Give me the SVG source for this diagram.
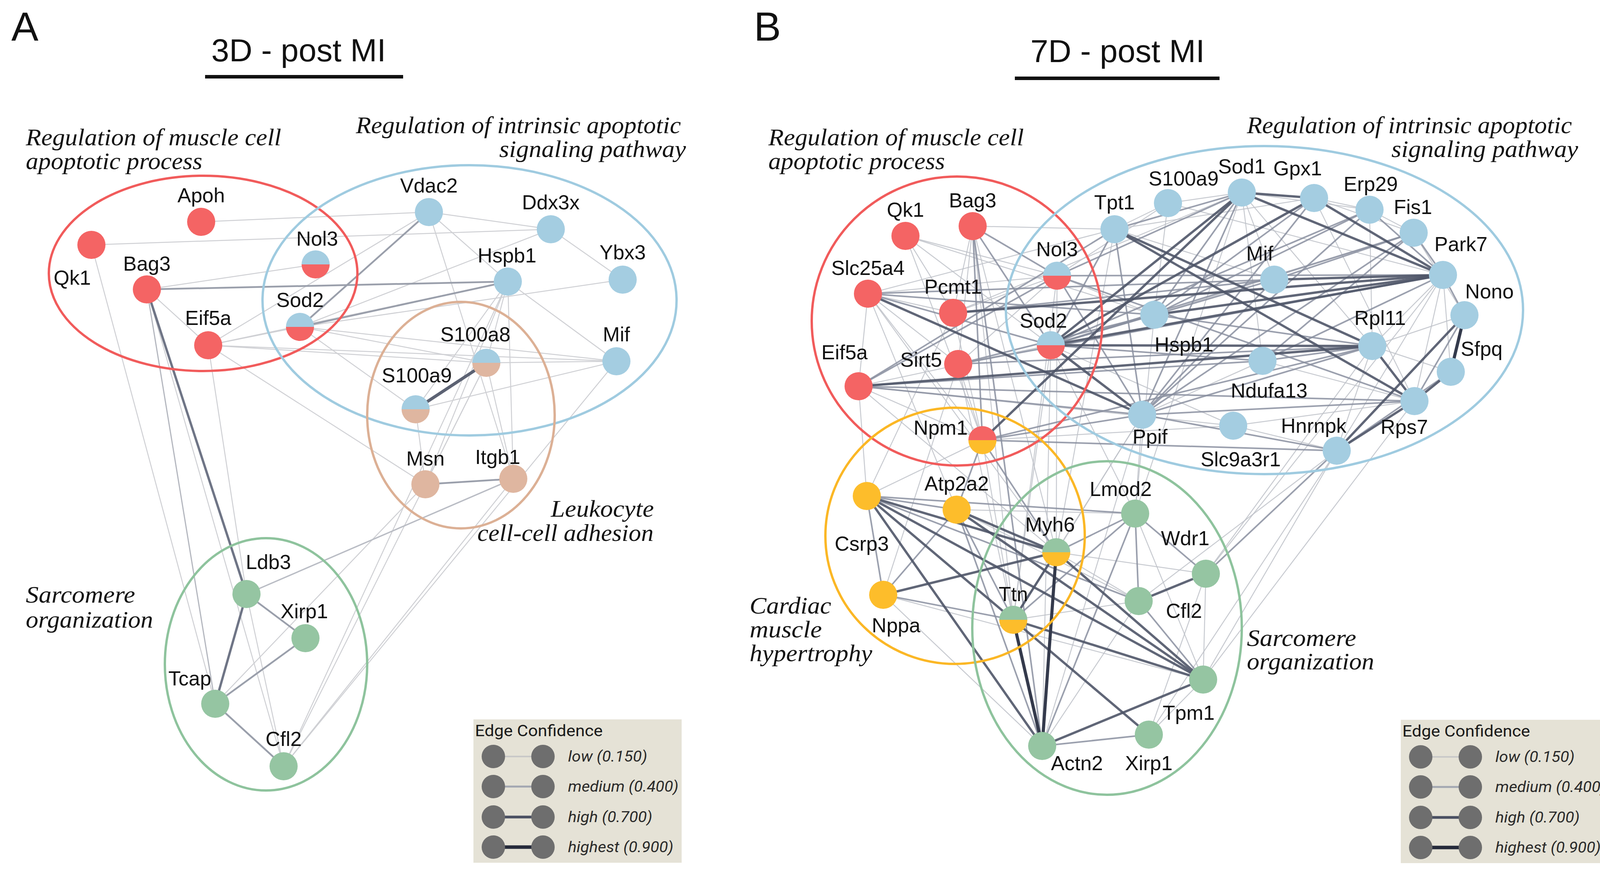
<svg xmlns="http://www.w3.org/2000/svg" width="4140" height="2243" viewBox="0 0 4140 2243">
<style>
.bg{fill:#ffffff}
.lbl{font-family:"Liberation Sans",Arial,sans-serif;font-size:52px;fill:#111;text-anchor:middle}
.grp{font-family:"Liberation Serif","Times New Roman",serif;font-style:italic;font-size:62px;fill:#111}
.ttl{font-family:"Liberation Sans",Arial,sans-serif;font-size:82px;fill:#111}
.pan{font-family:"Liberation Sans",Arial,sans-serif;font-size:104px;fill:#111}
.hull{fill:none;stroke-width:6}
.r{fill:#f46464}.b{fill:#a4cde1}.t{fill:#dfb6a0}.g{fill:#95c5a2}.o{fill:#fdbd2b}
.a1{stroke:#cfd0d4;stroke-width:2.5}
.a2{stroke:#9a9fab;stroke-width:4.5}
.a3{stroke:#6f7586;stroke-width:6}
.b1{stroke:#bfc2c9;stroke-width:2.5;opacity:.85}
.b2{stroke:#8a90a0;stroke-width:4;opacity:.85}
.b3{stroke:#4f5669;stroke-width:6;opacity:.9}
.b4{stroke:#343a4c;stroke-width:8}
.lgbox{fill:#e5e2d6}
.lgc{fill:#6e6e6e}
.lgt{font-family:Roboto,"Liberation Sans",sans-serif;font-size:40px;fill:#1a1a1a}
.lgi{font-family:Roboto,"Liberation Sans",sans-serif;font-size:38px;font-style:italic;fill:#2a2a2a}
</style>
<rect class="bg" x="0" y="0" width="4140" height="2243"/>

<!-- Panel titles -->
<g id="titles">
<text class="pan" x="29" y="104">A</text>
<text class="pan" x="1930" y="104">B</text>
<text class="ttl" x="541" y="157" textLength="447" lengthAdjust="spacingAndGlyphs">3D - post MI</text>
<rect x="525" y="192" width="507" height="9" fill="#111"/>
<text class="ttl" x="2638" y="159" textLength="446" lengthAdjust="spacingAndGlyphs">7D - post MI</text>
<rect x="2598" y="196" width="524" height="9" fill="#111"/>
</g>

<!-- Group labels -->
<g id="group-labels">
<text class="grp" x="66" y="372" textLength="654" lengthAdjust="spacingAndGlyphs">Regulation of muscle cell</text>
<text class="grp" x="66" y="433" textLength="452" lengthAdjust="spacingAndGlyphs">apoptotic process</text>
<text class="grp" x="911" y="341" textLength="832" lengthAdjust="spacingAndGlyphs">Regulation of intrinsic apoptotic</text>
<text class="grp" x="1278" y="402" textLength="478" lengthAdjust="spacingAndGlyphs">signaling pathway</text>
<text class="grp" x="1410" y="1323" textLength="264" lengthAdjust="spacingAndGlyphs">Leukocyte</text>
<text class="grp" x="1222" y="1385" textLength="451" lengthAdjust="spacingAndGlyphs">cell-cell adhesion</text>
<text class="grp" x="66" y="1543" textLength="280" lengthAdjust="spacingAndGlyphs">Sarcomere</text>
<text class="grp" x="66" y="1607" textLength="326" lengthAdjust="spacingAndGlyphs">organization</text>

<text class="grp" x="1967" y="372" textLength="654" lengthAdjust="spacingAndGlyphs">Regulation of muscle cell</text>
<text class="grp" x="1967" y="433" textLength="452" lengthAdjust="spacingAndGlyphs">apoptotic process</text>
<text class="grp" x="3192" y="341" textLength="832" lengthAdjust="spacingAndGlyphs">Regulation of intrinsic apoptotic</text>
<text class="grp" x="3562" y="402" textLength="478" lengthAdjust="spacingAndGlyphs">signaling pathway</text>
<text class="grp" x="1919" y="1571" textLength="209" lengthAdjust="spacingAndGlyphs">Cardiac</text>
<text class="grp" x="1919" y="1632" textLength="185" lengthAdjust="spacingAndGlyphs">muscle</text>
<text class="grp" x="1919" y="1693" textLength="314" lengthAdjust="spacingAndGlyphs">hypertrophy</text>
<text class="grp" x="3192" y="1654" textLength="280" lengthAdjust="spacingAndGlyphs">Sarcomere</text>
<text class="grp" x="3192" y="1714" textLength="326" lengthAdjust="spacingAndGlyphs">organization</text>
</g>

<!-- Connectors -->
<g id="connectors">
<!-- Panel A low -->
<line class="a1" x1="515" y1="568" x2="1098" y2="543"/>
<line class="a1" x1="234" y1="627" x2="1410" y2="587"/>
<line class="a1" x1="234" y1="627" x2="551" y2="1802"/>
<line class="a1" x1="376" y1="741" x2="808" y2="677"/>
<line class="a1" x1="376" y1="741" x2="533" y2="884"/>
<line class="a1" x1="376" y1="741" x2="726" y2="1962"/>
<line class="a1" x1="533" y1="884" x2="1098" y2="543"/>
<line class="a1" x1="533" y1="884" x2="1300" y2="721"/>
<line class="a1" x1="533" y1="884" x2="768" y2="837"/>
<line class="a1" x1="533" y1="884" x2="1578" y2="925"/>
<line class="a1" x1="533" y1="884" x2="1245" y2="929"/>
<line class="a1" x1="533" y1="884" x2="1089" y2="1240"/>
<line class="a1" x1="533" y1="884" x2="631" y2="1521"/>
<line class="a1" x1="768" y1="837" x2="1578" y2="925"/>
<line class="a1" x1="768" y1="837" x2="1245" y2="929"/>
<line class="a1" x1="768" y1="837" x2="1064" y2="1048"/>
<line class="a1" x1="768" y1="837" x2="1594" y2="716"/>
<line class="a1" x1="768" y1="837" x2="1410" y2="587"/>
<line class="a1" x1="1098" y1="543" x2="1410" y2="587"/>
<line class="a1" x1="1098" y1="543" x2="1314" y2="1226"/>
<line class="a1" x1="1098" y1="543" x2="1300" y2="721"/>
<line class="a1" x1="1410" y1="587" x2="1594" y2="716"/>
<line class="a1" x1="1300" y1="721" x2="1578" y2="925"/>
<line class="a1" x1="1300" y1="721" x2="1245" y2="929"/>
<line class="a1" x1="1300" y1="721" x2="1064" y2="1048"/>
<line class="a1" x1="1300" y1="721" x2="1089" y2="1240"/>
<line class="a1" x1="1300" y1="721" x2="1314" y2="1226"/>
<line class="a1" x1="1300" y1="721" x2="726" y2="1962"/>
<line class="a1" x1="1245" y1="929" x2="1578" y2="925"/>
<line class="a1" x1="1064" y1="1048" x2="1578" y2="925"/>
<line class="a1" x1="1245" y1="929" x2="1314" y2="1226"/>
<line class="a1" x1="1245" y1="929" x2="1089" y2="1240"/>
<line class="a1" x1="1064" y1="1048" x2="1089" y2="1240"/>
<line class="a1" x1="1578" y1="925" x2="726" y2="1962"/>
<line class="a1" x1="1314" y1="1226" x2="726" y2="1962"/>
<line class="a1" x1="1089" y1="1240" x2="551" y2="1802"/>
<line class="a1" x1="1245" y1="929" x2="726" y2="1962"/>
<line class="a1" x1="631" y1="1521" x2="726" y2="1962"/>
<!-- Panel A medium/high -->
<line class="a2" x1="376" y1="741" x2="1300" y2="721"/>
<line class="a2" x1="768" y1="837" x2="1098" y2="543"/>
<line class="a2" x1="768" y1="837" x2="1300" y2="721"/>
<line class="a2" x1="1089" y1="1240" x2="1314" y2="1226"/>
<line class="a1" x1="1314" y1="1226" x2="631" y2="1521" style="stroke:#b9bcc4;stroke-width:3.5"/>
<line class="a2" x1="631" y1="1521" x2="782" y2="1634"/>
<line class="a2" x1="782" y1="1634" x2="551" y2="1802"/>
<line class="a2" x1="551" y1="1802" x2="726" y2="1962"/>
<line class="a1" x1="376" y1="741" x2="551" y2="1802" style="stroke:#b4b7bf;stroke-width:3"/>
<line class="a3" x1="376" y1="741" x2="631" y2="1521"/>
<line class="a3" x1="631" y1="1521" x2="551" y2="1802"/>
<line class="a3" x1="1245" y1="929" x2="1064" y2="1048" style="stroke:#5c6273;stroke-width:8"/>

<!-- Panel B low -->
<line class="b1" x1="2318" y1="604" x2="2690" y2="884"/>
<line class="b1" x1="2318" y1="604" x2="2706" y2="706"/>
<line class="b1" x1="2318" y1="604" x2="2440" y2="801"/>
<line class="b1" x1="2318" y1="604" x2="2955" y2="806"/>
<line class="b1" x1="2318" y1="604" x2="2515" y2="1127"/>
<line class="b1" x1="2490" y1="579" x2="2853" y2="587"/>
<line class="b1" x1="2490" y1="579" x2="2440" y2="801"/>
<line class="b1" x1="2490" y1="579" x2="2453" y2="932"/>
<line class="b1" x1="2490" y1="579" x2="2594" y2="1587"/>
<line class="b1" x1="2490" y1="579" x2="2704" y2="1414"/>
<line class="b1" x1="2222" y1="752" x2="2198" y2="989"/>
<line class="b1" x1="2222" y1="752" x2="2453" y2="932"/>
<line class="b1" x1="2222" y1="752" x2="2515" y2="1127"/>
<line class="b1" x1="2222" y1="752" x2="2449" y2="1305"/>
<line class="b1" x1="2222" y1="752" x2="2704" y2="1414"/>
<line class="b1" x1="2222" y1="752" x2="2440" y2="801"/>
<line class="b1" x1="2222" y1="752" x2="2706" y2="706"/>
<line class="b1" x1="2222" y1="752" x2="2853" y2="587"/>
<line class="b1" x1="2440" y1="801" x2="2706" y2="706"/>
<line class="b1" x1="2440" y1="801" x2="3179" y2="493"/>
<line class="b1" x1="2440" y1="801" x2="2515" y2="1127"/>
<line class="b1" x1="2198" y1="989" x2="2515" y2="1127"/>
<line class="b1" x1="2198" y1="989" x2="2704" y2="1414"/>
<line class="b1" x1="2198" y1="989" x2="2219" y2="1270"/>
<line class="b1" x1="2198" y1="989" x2="2690" y2="884"/>
<line class="b1" x1="2453" y1="932" x2="2690" y2="884"/>
<line class="b1" x1="2453" y1="932" x2="2706" y2="706"/>
<line class="b1" x1="2453" y1="932" x2="2515" y2="1127"/>
<line class="b1" x1="2453" y1="932" x2="2594" y2="1587"/>
<line class="b1" x1="2706" y1="706" x2="2955" y2="806"/>
<line class="b1" x1="2706" y1="706" x2="2704" y2="1414"/>
<line class="b1" x1="2706" y1="706" x2="2594" y2="1587"/>
<line class="b1" x1="2690" y1="884" x2="2594" y2="1587"/>
<line class="b1" x1="2690" y1="884" x2="2668" y2="1910"/>
<line class="b1" x1="2690" y1="884" x2="2906" y2="1315"/>
<line class="b1" x1="2990" y1="520" x2="3179" y2="493"/>
<line class="b1" x1="2990" y1="520" x2="3694" y2="704"/>
<line class="b1" x1="2990" y1="520" x2="2955" y2="806"/>
<line class="b1" x1="2990" y1="520" x2="2853" y2="587"/>
<line class="b1" x1="2990" y1="520" x2="2706" y2="706"/>
<line class="b1" x1="2853" y1="587" x2="3364" y2="507"/>
<line class="b1" x1="2853" y1="587" x2="3262" y2="716"/>
<line class="b1" x1="2853" y1="587" x2="2704" y2="1414"/>
<line class="b1" x1="3179" y1="493" x2="3262" y2="716"/>
<line class="b1" x1="3179" y1="493" x2="3506" y2="537"/>
<line class="b1" x1="3179" y1="493" x2="3232" y2="924"/>
<line class="b1" x1="3179" y1="493" x2="3513" y2="886"/>
<line class="b1" x1="3364" y1="507" x2="3506" y2="537"/>
<line class="b1" x1="3364" y1="507" x2="3619" y2="596"/>
<line class="b1" x1="3364" y1="507" x2="3621" y2="1027"/>
<line class="b1" x1="3506" y1="537" x2="3619" y2="596"/>
<line class="b1" x1="3506" y1="537" x2="3513" y2="886"/>
<line class="b1" x1="3619" y1="596" x2="2955" y2="806"/>
<line class="b1" x1="3619" y1="596" x2="3749" y2="807"/>
<line class="b1" x1="3694" y1="704" x2="3621" y2="1027"/>
<line class="b1" x1="3694" y1="704" x2="3714" y2="952"/>
<line class="b1" x1="3694" y1="704" x2="3422" y2="1154"/>
<line class="b1" x1="3694" y1="704" x2="3513" y2="886"/>
<line class="b1" x1="3513" y1="886" x2="3749" y2="807"/>
<line class="b1" x1="3513" y1="886" x2="3422" y2="1154"/>
<line class="b1" x1="3513" y1="886" x2="3714" y2="952"/>
<line class="b1" x1="3232" y1="924" x2="3621" y2="1027"/>
<line class="b1" x1="3232" y1="924" x2="2924" y2="1062"/>
<line class="b1" x1="3157" y1="1090" x2="3422" y2="1154"/>
<line class="b1" x1="3157" y1="1090" x2="2690" y2="884"/>
<line class="b1" x1="3157" y1="1090" x2="2515" y2="1127"/>
<line class="b1" x1="3157" y1="1090" x2="3621" y2="1027"/>
<line class="b1" x1="3157" y1="1090" x2="2198" y2="989"/>
<line class="b1" x1="3422" y1="1154" x2="3080" y2="1740"/>
<line class="b1" x1="3422" y1="1154" x2="2941" y2="1881"/>
<line class="b1" x1="3422" y1="1154" x2="2915" y2="1539"/>
<line class="b1" x1="2924" y1="1062" x2="2906" y2="1315"/>
<line class="b1" x1="2924" y1="1062" x2="2704" y2="1414"/>
<line class="b1" x1="2924" y1="1062" x2="2594" y2="1587"/>
<line class="b1" x1="2906" y1="1315" x2="2955" y2="806"/>
<line class="b1" x1="3087" y1="1469" x2="3513" y2="886"/>
<line class="b1" x1="3080" y1="1740" x2="3621" y2="1027"/>
<line class="b1" x1="2668" y1="1910" x2="2924" y2="1062"/>
<line class="b1" x1="2515" y1="1127" x2="2219" y2="1270"/>
<line class="b1" x1="2515" y1="1127" x2="2594" y2="1587"/>
<line class="b1" x1="2449" y1="1305" x2="2915" y2="1539"/>
<line class="b1" x1="2449" y1="1305" x2="2906" y2="1315"/>
<line class="b1" x1="2261" y1="1523" x2="2668" y2="1910"/>
<line class="b1" x1="2261" y1="1523" x2="3080" y2="1740"/>
<line class="b1" x1="2704" y1="1414" x2="2915" y2="1539"/>
<line class="b1" x1="2704" y1="1414" x2="3087" y2="1469"/>
<line class="b1" x1="2594" y1="1587" x2="2915" y2="1539"/>
<line class="b1" x1="2906" y1="1315" x2="3080" y2="1740"/>
<line class="b1" x1="3087" y1="1469" x2="3080" y2="1740"/>
<line class="b1" x1="2915" y1="1539" x2="2668" y2="1910"/>
<line class="b1" x1="3080" y1="1740" x2="2941" y2="1881"/>
<line class="b1" x1="2219" y1="1270" x2="2440" y2="801"/>
<line class="b1" x1="2261" y1="1523" x2="2453" y2="932"/>
<line class="b1" x1="2906" y1="1315" x2="3179" y2="493"/>
<line class="b1" x1="2941" y1="1881" x2="3087" y2="1469"/>
<line class="b1" x1="3087" y1="1469" x2="3694" y2="704"/>
<!-- Panel B medium -->
<line class="b2" x1="2690" y1="884" x2="3262" y2="716"/>
<line class="b2" x1="2690" y1="884" x2="3619" y2="596"/>
<line class="b2" x1="2690" y1="884" x2="3506" y2="537"/>
<line class="b2" x1="2690" y1="884" x2="2955" y2="806"/>
<line class="b2" x1="2690" y1="884" x2="3232" y2="924"/>
<line class="b2" x1="2690" y1="884" x2="2853" y2="587"/>
<line class="b2" x1="2706" y1="706" x2="3179" y2="493"/>
<line class="b2" x1="2706" y1="706" x2="3694" y2="704"/>
<line class="b2" x1="2706" y1="706" x2="3621" y2="1027"/>
<line class="b2" x1="2706" y1="706" x2="2924" y2="1062"/>
<line class="b2" x1="2490" y1="579" x2="2706" y2="706"/>
<line class="b2" x1="2490" y1="579" x2="2690" y2="884"/>
<line class="b2" x1="2490" y1="579" x2="2515" y2="1127"/>
<line class="b2" x1="2490" y1="579" x2="2668" y2="1910"/>
<line class="b2" x1="2222" y1="752" x2="2690" y2="884"/>
<line class="b2" x1="2222" y1="752" x2="2955" y2="806"/>
<line class="b2" x1="2222" y1="752" x2="3262" y2="716"/>
<line class="b2" x1="2440" y1="801" x2="3262" y2="716"/>
<line class="b2" x1="2198" y1="989" x2="2706" y2="706"/>
<line class="b2" x1="2198" y1="989" x2="3232" y2="924"/>
<line class="b2" x1="2198" y1="989" x2="3621" y2="1027"/>
<line class="b2" x1="2198" y1="989" x2="2924" y2="1062"/>
<line class="b2" x1="2198" y1="989" x2="2853" y2="587"/>
<line class="b2" x1="2453" y1="932" x2="3694" y2="704"/>
<line class="b2" x1="2453" y1="932" x2="2955" y2="806"/>
<line class="b2" x1="2453" y1="932" x2="3513" y2="886"/>
<line class="b2" x1="2955" y1="806" x2="3179" y2="493"/>
<line class="b2" x1="2955" y1="806" x2="3364" y2="507"/>
<line class="b2" x1="2955" y1="806" x2="3513" y2="886"/>
<line class="b2" x1="2955" y1="806" x2="3506" y2="537"/>
<line class="b2" x1="2853" y1="587" x2="3179" y2="493"/>
<line class="b2" x1="2853" y1="587" x2="2924" y2="1062"/>
<line class="b2" x1="3506" y1="537" x2="3694" y2="704"/>
<line class="b2" x1="3506" y1="537" x2="2924" y2="1062"/>
<line class="b2" x1="3619" y1="596" x2="3694" y2="704"/>
<line class="b2" x1="3619" y1="596" x2="2924" y2="1062"/>
<line class="b2" x1="3619" y1="596" x2="3232" y2="924"/>
<line class="b2" x1="3262" y1="716" x2="2924" y2="1062"/>
<line class="b2" x1="3262" y1="716" x2="3619" y2="596"/>
<line class="b2" x1="3513" y1="886" x2="3232" y2="924"/>
<line class="b2" x1="3513" y1="886" x2="2924" y2="1062"/>
<line class="b2" x1="3232" y1="924" x2="3694" y2="704"/>
<line class="b2" x1="2924" y1="1062" x2="3621" y2="1027"/>
<line class="b2" x1="2924" y1="1062" x2="3422" y2="1154"/>
<line class="b2" x1="3694" y1="704" x2="3749" y2="807"/>
<line class="b2" x1="3422" y1="1154" x2="3714" y2="952"/>
<line class="b2" x1="3422" y1="1154" x2="2515" y2="1127"/>
<line class="b2" x1="3422" y1="1154" x2="3087" y2="1469"/>
<line class="b2" x1="3621" y1="1027" x2="3749" y2="807"/>
<line class="b2" x1="2515" y1="1127" x2="2924" y2="1062"/>
<line class="b2" x1="2515" y1="1127" x2="3513" y2="886"/>
<line class="b2" x1="2515" y1="1127" x2="2704" y2="1414"/>
<line class="b2" x1="2515" y1="1127" x2="2449" y2="1305"/>
<line class="b2" x1="3179" y1="493" x2="2924" y2="1062"/>
<line class="b2" x1="3364" y1="507" x2="2924" y2="1062"/>
<line class="b2" x1="2219" y1="1270" x2="2449" y2="1305"/>
<line class="b2" x1="2219" y1="1270" x2="2906" y2="1315"/>
<line class="b2" x1="2219" y1="1270" x2="2915" y2="1539"/>
<line class="b2" x1="2219" y1="1270" x2="2261" y2="1523"/>
<line class="b2" x1="2449" y1="1305" x2="2594" y2="1587"/>
<line class="b2" x1="2449" y1="1305" x2="2261" y2="1523"/>
<line class="b2" x1="2449" y1="1305" x2="2668" y2="1910"/>
<line class="b2" x1="2261" y1="1523" x2="2594" y2="1587"/>
<line class="b2" x1="2704" y1="1414" x2="2906" y2="1315"/>
<line class="b2" x1="2594" y1="1587" x2="2906" y2="1315"/>
<line class="b2" x1="2906" y1="1315" x2="2915" y2="1539"/>
<line class="b2" x1="2906" y1="1315" x2="3087" y2="1469"/>
<line class="b2" x1="2906" y1="1315" x2="2668" y2="1910"/>
<line class="b2" x1="2915" y1="1539" x2="3080" y2="1740"/>
<line class="b2" x1="2668" y1="1910" x2="2941" y2="1881"/>
<!-- Panel B high -->
<line class="b3" x1="2222" y1="752" x2="2924" y2="1062"/>
<line class="b3" x1="2690" y1="884" x2="3179" y2="493"/>
<line class="b3" x1="2690" y1="884" x2="3364" y2="507"/>
<line class="b3" x1="2690" y1="884" x2="3694" y2="704"/>
<line class="b3" x1="2690" y1="884" x2="3513" y2="886"/>
<line class="b3" x1="2690" y1="884" x2="2924" y2="1062"/>
<line class="b3" x1="3179" y1="493" x2="3364" y2="507"/>
<line class="b3" x1="3179" y1="493" x2="3694" y2="704"/>
<line class="b3" x1="3364" y1="507" x2="3694" y2="704"/>
<line class="b3" x1="2853" y1="587" x2="3621" y2="1027"/>
<line class="b3" x1="2853" y1="587" x2="3513" y2="886"/>
<line class="b3" x1="3262" y1="716" x2="3694" y2="704"/>
<line class="b3" x1="3513" y1="886" x2="3621" y2="1027"/>
<line class="b3" x1="3714" y1="952" x2="3621" y2="1027"/>
<line class="b3" x1="3422" y1="1154" x2="3621" y2="1027"/>
<line class="b3" x1="3422" y1="1154" x2="3749" y2="807"/>
<line class="b3" x1="2198" y1="989" x2="3513" y2="886"/>
<line class="b3" x1="2440" y1="801" x2="3694" y2="704"/>
<line class="b3" x1="2955" y1="806" x2="3694" y2="704"/>
<line class="b3" x1="2515" y1="1127" x2="3179" y2="493"/>
<line class="b3" x1="2219" y1="1270" x2="2704" y2="1414"/>
<line class="b3" x1="2219" y1="1270" x2="2594" y2="1587"/>
<line class="b3" x1="2219" y1="1270" x2="3080" y2="1740"/>
<line class="b3" x1="2219" y1="1270" x2="2668" y2="1910"/>
<line class="b3" x1="2449" y1="1305" x2="2704" y2="1414"/>
<line class="b3" x1="2449" y1="1305" x2="3080" y2="1740"/>
<line class="b3" x1="2261" y1="1523" x2="2704" y2="1414"/>
<line class="b3" x1="2704" y1="1414" x2="2594" y2="1587"/>
<line class="b3" x1="2704" y1="1414" x2="3080" y2="1740"/>
<line class="b3" x1="2594" y1="1587" x2="3080" y2="1740"/>
<line class="b3" x1="2594" y1="1587" x2="2941" y2="1881"/>
<line class="b3" x1="3087" y1="1469" x2="2915" y2="1539"/>
<line class="b3" x1="2668" y1="1910" x2="3080" y2="1740"/>
<line class="b4" x1="3749" y1="807" x2="3714" y2="952"/>
<line class="b4" x1="2704" y1="1414" x2="2668" y2="1910"/>
<line class="b4" x1="2594" y1="1587" x2="2668" y2="1910"/>
</g>

<!-- Functional group hulls -->
<g id="hulls">
<ellipse class="hull" cx="520" cy="700" rx="395" ry="250" stroke="#f15b5b"/>
<ellipse class="hull" cx="1202" cy="769" rx="530" ry="346" stroke="#9fcbe0"/>
<ellipse class="hull" cx="1180" cy="1063" rx="240" ry="290" stroke="#dcb095"/>
<ellipse class="hull" cx="681" cy="1701" rx="259" ry="323" stroke="#8ec39d"/>
<ellipse class="hull" cx="2450" cy="822" rx="372" ry="370" stroke="#f15b5b"/>
<ellipse class="hull" cx="3237" cy="794" rx="662" ry="420" stroke="#9fcbe0"/>
<ellipse class="hull" cx="2445" cy="1372" rx="332" ry="328" stroke="#fbb725"/>
<ellipse class="hull" cx="2834" cy="1608" rx="345" ry="427" stroke="#8ec39d"/>
</g>

<!-- Panel A nodes -->
<g id="a-apoh"><circle class="r" cx="515" cy="568" r="36"/><text class="lbl" x="515" y="518">Apoh</text></g>
<g id="a-qk1"><circle class="r" cx="234" cy="627" r="36"/><text class="lbl" x="185" y="729">Qk1</text></g>
<g id="a-bag3"><circle class="r" cx="376" cy="741" r="36"/><text class="lbl" x="376" y="693">Bag3</text></g>
<g id="a-eif5a"><circle class="r" cx="533" cy="884" r="36"/><text class="lbl" x="533" y="832">Eif5a</text></g>
<g id="a-nol3"><path class="b" d="M772,677 A36,36 0 0 1 844,677 Z"/><path class="r" d="M772,677 A36,36 0 0 0 844,677 Z"/><text class="lbl" x="812" y="629">Nol3</text></g>
<g id="a-sod2"><path class="b" d="M732,837 A36,36 0 0 1 804,837 Z"/><path class="r" d="M732,837 A36,36 0 0 0 804,837 Z"/><text class="lbl" x="768" y="786">Sod2</text></g>
<g id="a-vdac2"><circle class="b" cx="1098" cy="543" r="36"/><text class="lbl" x="1098" y="493">Vdac2</text></g>
<g id="a-ddx3x"><circle class="b" cx="1410" cy="587" r="36"/><text class="lbl" x="1410" y="536">Ddx3x</text></g>
<g id="a-hspb1"><circle class="b" cx="1300" cy="721" r="36"/><text class="lbl" x="1298" y="672">Hspb1</text></g>
<g id="a-ybx3"><circle class="b" cx="1594" cy="716" r="36"/><text class="lbl" x="1594" y="664">Ybx3</text></g>
<g id="a-mif"><circle class="b" cx="1578" cy="925" r="36"/><text class="lbl" x="1578" y="874">Mif</text></g>
<g id="a-s100a8"><path class="b" d="M1209,929 A36,36 0 0 1 1281,929 Z"/><path class="t" d="M1209,929 A36,36 0 0 0 1281,929 Z"/><text class="lbl" x="1217" y="874">S100a8</text></g>
<g id="a-s100a9"><path class="b" d="M1028,1048 A36,36 0 0 1 1100,1048 Z"/><path class="t" d="M1028,1048 A36,36 0 0 0 1100,1048 Z"/><text class="lbl" x="1067" y="979">S100a9</text></g>
<g id="a-msn"><circle class="t" cx="1089" cy="1240" r="36"/><text class="lbl" x="1089" y="1192">Msn</text></g>
<g id="a-itgb1"><circle class="t" cx="1314" cy="1226" r="36"/><text class="lbl" x="1274" y="1188">Itgb1</text></g>
<g id="a-ldb3"><circle class="g" cx="631" cy="1521" r="36"/><text class="lbl" x="687" y="1457">Ldb3</text></g>
<g id="a-xirp1"><circle class="g" cx="782" cy="1634" r="36"/><text class="lbl" x="779" y="1583">Xirp1</text></g>
<g id="a-tcap"><circle class="g" cx="551" cy="1802" r="36"/><text class="lbl" x="486" y="1755">Tcap</text></g>
<g id="a-cfl2"><circle class="g" cx="726" cy="1962" r="36"/><text class="lbl" x="726" y="1910">Cfl2</text></g>

<!-- Panel B nodes -->
<g id="b-qk1"><circle class="r" cx="2318" cy="604" r="36"/><text class="lbl" x="2318" y="555">Qk1</text></g>
<g id="b-bag3"><circle class="r" cx="2490" cy="579" r="36"/><text class="lbl" x="2490" y="531">Bag3</text></g>
<g id="b-slc25a4"><circle class="r" cx="2222" cy="752" r="36"/><text class="lbl" x="2222" y="704">Slc25a4</text></g>
<g id="b-pcmt1"><circle class="r" cx="2440" cy="801" r="36"/><text class="lbl" x="2440" y="752">Pcmt1</text></g>
<g id="b-eif5a"><circle class="r" cx="2198" cy="989" r="36"/><text class="lbl" x="2162" y="920">Eif5a</text></g>
<g id="b-sirt5"><circle class="r" cx="2453" cy="932" r="36"/><text class="lbl" x="2358" y="939">Sirt5</text></g>
<g id="b-nol3"><path class="b" d="M2670,706 A36,36 0 0 1 2742,706 Z"/><path class="r" d="M2670,706 A36,36 0 0 0 2742,706 Z"/><text class="lbl" x="2706" y="656">Nol3</text></g>
<g id="b-sod2"><path class="b" d="M2654,884 A36,36 0 0 1 2726,884 Z"/><path class="r" d="M2654,884 A36,36 0 0 0 2726,884 Z"/><text class="lbl" x="2671" y="839">Sod2</text></g>
<g id="b-npm1"><path class="r" d="M2479,1127 A36,36 0 0 1 2551,1127 Z"/><path class="o" d="M2479,1127 A36,36 0 0 0 2551,1127 Z"/><text class="lbl" x="2408" y="1113">Npm1</text></g>
<g id="b-tpt1"><circle class="b" cx="2853" cy="587" r="36"/><text class="lbl" x="2853" y="536">Tpt1</text></g>
<g id="b-s100a9"><circle class="b" cx="2990" cy="520" r="36"/><text class="lbl" x="3030" y="475">S100a9</text></g>
<g id="b-sod1"><circle class="b" cx="3179" cy="493" r="36"/><text class="lbl" x="3179" y="444">Sod1</text></g>
<g id="b-gpx1"><circle class="b" cx="3364" cy="507" r="36"/><text class="lbl" x="3322" y="449">Gpx1</text></g>
<g id="b-erp29"><circle class="b" cx="3506" cy="537" r="36"/><text class="lbl" x="3509" y="489">Erp29</text></g>
<g id="b-fis1"><circle class="b" cx="3619" cy="596" r="36"/><text class="lbl" x="3617" y="548">Fis1</text></g>
<g id="b-park7"><circle class="b" cx="3694" cy="704" r="36"/><text class="lbl" x="3740" y="643">Park7</text></g>
<g id="b-mif"><circle class="b" cx="3262" cy="716" r="36"/><text class="lbl" x="3225" y="667">Mif</text></g>
<g id="b-nono"><circle class="b" cx="3749" cy="807" r="36"/><text class="lbl" x="3813" y="764">Nono</text></g>
<g id="b-hspb1"><circle class="b" cx="2955" cy="806" r="36"/><text class="lbl" x="3031" y="900">Hspb1</text></g>
<g id="b-rpl11"><circle class="b" cx="3513" cy="886" r="36"/><text class="lbl" x="3533" y="832">Rpl11</text></g>
<g id="b-sfpq"><circle class="b" cx="3714" cy="952" r="36"/><text class="lbl" x="3793" y="911">Sfpq</text></g>
<g id="b-ndufa13"><circle class="b" cx="3232" cy="924" r="36"/><text class="lbl" x="3249" y="1018">Ndufa13</text></g>
<g id="b-rps7"><circle class="b" cx="3621" cy="1027" r="36"/><text class="lbl" x="3595" y="1111">Rps7</text></g>
<g id="b-ppif"><circle class="b" cx="2924" cy="1062" r="36"/><text class="lbl" x="2944" y="1136">Ppif</text></g>
<g id="b-slc9a3r1"><circle class="b" cx="3157" cy="1090" r="36"/><text class="lbl" x="3176" y="1194">Slc9a3r1</text></g>
<g id="b-hnrnpk"><circle class="b" cx="3422" cy="1154" r="36"/><text class="lbl" x="3363" y="1108">Hnrnpk</text></g>
<g id="b-csrp3"><circle class="o" cx="2219" cy="1270" r="36"/><text class="lbl" x="2206" y="1410">Csrp3</text></g>
<g id="b-atp2a2"><circle class="o" cx="2449" cy="1305" r="36"/><text class="lbl" x="2449" y="1256">Atp2a2</text></g>
<g id="b-lmod2"><circle class="g" cx="2906" cy="1315" r="36"/><text class="lbl" x="2869" y="1270">Lmod2</text></g>
<g id="b-myh6"><path class="g" d="M2668,1414 A36,36 0 0 1 2740,1414 Z"/><path class="o" d="M2668,1414 A36,36 0 0 0 2740,1414 Z"/><text class="lbl" x="2688" y="1361">Myh6</text></g>
<g id="b-wdr1"><circle class="g" cx="3087" cy="1469" r="36"/><text class="lbl" x="3034" y="1396">Wdr1</text></g>
<g id="b-nppa"><circle class="o" cx="2261" cy="1523" r="36"/><text class="lbl" x="2294" y="1619">Nppa</text></g>
<g id="b-cfl2"><circle class="g" cx="2915" cy="1539" r="36"/><text class="lbl" x="3031" y="1582">Cfl2</text></g>
<g id="b-ttn"><path class="g" d="M2558,1587 A36,36 0 0 1 2630,1587 Z"/><path class="o" d="M2558,1587 A36,36 0 0 0 2630,1587 Z"/><text class="lbl" x="2594" y="1539">Ttn</text></g>
<g id="b-tpm1"><circle class="g" cx="3080" cy="1740" r="36"/><text class="lbl" x="3043" y="1843">Tpm1</text></g>
<g id="b-actn2"><circle class="g" cx="2668" cy="1910" r="36"/><text class="lbl" x="2757" y="1972">Actn2</text></g>
<g id="b-xirp1"><circle class="g" cx="2941" cy="1881" r="36"/><text class="lbl" x="2941" y="1972">Xirp1</text></g>

<!-- Legends -->
<g id="legend-a">
<rect class="lgbox" x="1212" y="1842" width="533" height="367"/>
<text class="lgt" x="1216" y="1885" textLength="327" lengthAdjust="spacingAndGlyphs">Edge Confidence</text>
<line x1="1263" y1="1937" x2="1390" y2="1937" stroke="#c8c8c8" stroke-width="4"/>
<line x1="1263" y1="2014" x2="1390" y2="2014" stroke="#a3a7b1" stroke-width="5"/>
<line x1="1263" y1="2092" x2="1390" y2="2092" stroke="#4a5062" stroke-width="7"/>
<line x1="1263" y1="2169" x2="1390" y2="2169" stroke="#252a3a" stroke-width="9"/>
<circle class="lgc" cx="1263" cy="1937" r="30"/><circle class="lgc" cx="1390" cy="1937" r="30"/>
<circle class="lgc" cx="1263" cy="2014" r="30"/><circle class="lgc" cx="1390" cy="2014" r="30"/>
<circle class="lgc" cx="1263" cy="2092" r="30"/><circle class="lgc" cx="1390" cy="2092" r="30"/>
<circle class="lgc" cx="1263" cy="2169" r="30"/><circle class="lgc" cx="1390" cy="2169" r="30"/>
<text class="lgi" x="1454" y="1950" textLength="203" lengthAdjust="spacingAndGlyphs">low (0.150)</text>
<text class="lgi" x="1454" y="2027" textLength="283" lengthAdjust="spacingAndGlyphs">medium (0.400)</text>
<text class="lgi" x="1454" y="2105" textLength="216" lengthAdjust="spacingAndGlyphs">high (0.700)</text>
<text class="lgi" x="1454" y="2182" textLength="270" lengthAdjust="spacingAndGlyphs">highest (0.900)</text>
</g>
<g id="legend-b">
<rect class="lgbox" x="3586" y="1843" width="533" height="367"/>
<text class="lgt" x="3590" y="1886" textLength="327" lengthAdjust="spacingAndGlyphs">Edge Confidence</text>
<line x1="3637" y1="1938" x2="3764" y2="1938" stroke="#c8c8c8" stroke-width="4"/>
<line x1="3637" y1="2015" x2="3764" y2="2015" stroke="#a3a7b1" stroke-width="5"/>
<line x1="3637" y1="2093" x2="3764" y2="2093" stroke="#4a5062" stroke-width="7"/>
<line x1="3637" y1="2170" x2="3764" y2="2170" stroke="#252a3a" stroke-width="9"/>
<circle class="lgc" cx="3637" cy="1938" r="30"/><circle class="lgc" cx="3764" cy="1938" r="30"/>
<circle class="lgc" cx="3637" cy="2015" r="30"/><circle class="lgc" cx="3764" cy="2015" r="30"/>
<circle class="lgc" cx="3637" cy="2093" r="30"/><circle class="lgc" cx="3764" cy="2093" r="30"/>
<circle class="lgc" cx="3637" cy="2170" r="30"/><circle class="lgc" cx="3764" cy="2170" r="30"/>
<text class="lgi" x="3828" y="1951" textLength="203" lengthAdjust="spacingAndGlyphs">low (0.150)</text>
<text class="lgi" x="3828" y="2028" textLength="283" lengthAdjust="spacingAndGlyphs">medium (0.400)</text>
<text class="lgi" x="3828" y="2106" textLength="216" lengthAdjust="spacingAndGlyphs">high (0.700)</text>
<text class="lgi" x="3828" y="2183" textLength="270" lengthAdjust="spacingAndGlyphs">highest (0.900)</text>
</g>
</svg>
